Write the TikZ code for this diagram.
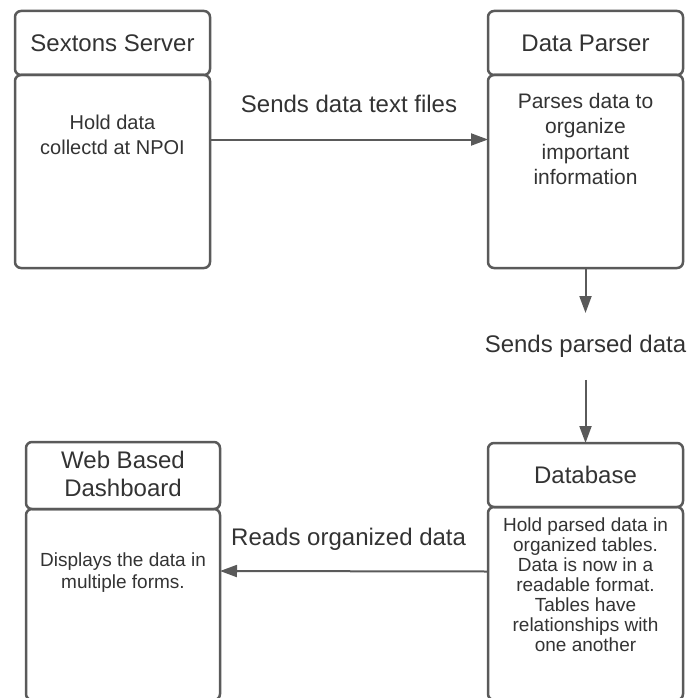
\documentclass[tikz,border=0pt]{standalone}
\usepackage{fontspec}
\setmainfont{Liberation Sans}
\usetikzlibrary{calc, positioning, arrows.meta}
\definecolor{edge}{HTML}{5A5A5A}
\definecolor{ink}{HTML}{333333}

\begin{document}
\begin{tikzpicture}[x=1pt, y=-1pt, >={Triangle[length=17pt, width=12pt]},
  head/.style={draw=edge, line width=2.5pt, rounded corners=6pt, outer sep=0pt,
    minimum width=195pt, text=ink, align=center, font=\fontsize{24}{28}\selectfont},
  body/.style={draw=edge, line width=2.5pt, rounded corners=6pt, outer sep=0pt,
    minimum width=195pt},
  info/.style={text=ink, align=center, inner sep=0pt},
  flow/.style={draw=edge, line width=2pt, ->},
  tag/.style={text=ink, inner sep=0pt, font=\fontsize{24}{28}\selectfont}]
  \useasboundingbox (0,0) rectangle (686,698);

  % top row
  \node [head, anchor=north west, minimum height=64pt] (srv-head) at (15,11) {Sextons Server};
  \node [body, below=0pt of srv-head, minimum height=193pt] (srv-body) {};
  \node [info, font=\fontsize{20}{25}\selectfont, below=40pt of srv-head] (srv-text) {Hold data\\collectd at NPOI};

  \node [head, anchor=north west, minimum height=64pt] (par-head) at (488,11) {Data Parser};
  \node [body, below=0pt of par-head, minimum height=193pt] (par-body) {};
  \node [info, font=\fontsize{21}{25.5}\selectfont, below=18pt of par-head] (par-text) {Parses data to\\organize\\important\\information};

  % bottom row
  \node [head, anchor=north west, minimum width=194pt, minimum height=67pt, text depth=4pt] (dash-head) at (26,442) {Web Based\\Dashboard};
  \node [body, below=0pt of dash-head, minimum width=194pt, minimum height=191pt] (dash-body) {};
  \node [info, font=\fontsize{19}{22}\selectfont, below=44pt of dash-head] (dash-text) {Displays the data in\\multiple forms.};

  \node [head, anchor=north west, minimum height=64pt] (db-head) at (488,443) {Database};
  \node [body, below=0pt of db-head, minimum height=193pt] (db-body) {};
  \node [info, font=\fontsize{19}{20}\selectfont, below=11pt of db-head] (db-text) {Hold parsed data in\\organized tables.\\Data is now in a\\readable format.\\Tables have\\relationships with\\one another};

  % connectors
  \draw [flow] ($(srv-head.north east)!.5!(srv-body.south east)$) -- node [tag, above=26pt] {Sends data text files} ($(par-head.north west)!.5!(par-body.south west)$);
  \node [tag, inner ysep=22pt, below=45pt of par-body] (sent) {Sends parsed data};
  \draw [flow] (par-body.south) -- (sent.north);
  \draw [flow] (sent.south) -- (db-head.north);
  \draw [flow] ($(db-head.north west)!.5!(db-body.south west)$) -- node [tag, pos=.52, above=20pt] {Reads organized data} ($(dash-head.north east)!.5!(dash-body.south east)$);
\end{tikzpicture}
\end{document}
